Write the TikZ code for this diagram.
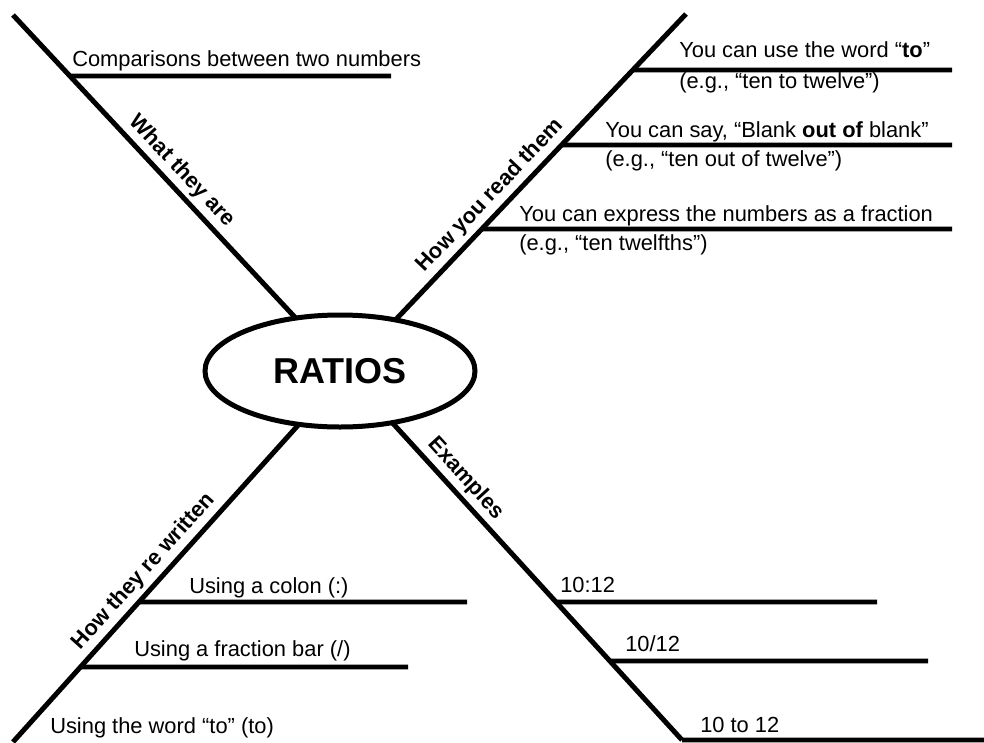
\documentclass[tikz,border=0pt]{standalone}
\usepackage{fontspec}
\setmainfont{Liberation Sans}
\usetikzlibrary{shapes.geometric,calc}

\tikzset{
    branch/.style={line width=3.75pt},
    twig/.style={line width=3.6pt},
    leaf/.style={anchor=base west, inner sep=0pt, font=\fontsize{16.4}{19}\selectfont},
    tag/.style={sloped, above, inner sep=3pt, font=\fontsize{16.4}{19}\selectfont\bfseries},
}

\begin{document}
\begin{tikzpicture}[x=0.75pt, y=-0.75pt]
    \useasboundingbox (0,0) rectangle (984,742);
    \coordinate (hub) at (346,372);
    \coordinate (lt) at (13,15);
    \coordinate (rt) at (686,14);
    \coordinate (lb) at (13,742);
    \coordinate (rb) at (682,740);

    % main branches
    \draw[branch] (lt) -- (hub) node[tag, pos=.47] {What they are};
    \draw[branch] (hub) -- (rt) node[tag, pos=.46] {How you read them};
    \draw[branch] (lb) -- (hub) node[tag, pos=.43] {How they re written};
    \draw[branch] (hub) -- (rb) node[tag, pos=.32] {Examples};

    \node[ellipse, draw, line width=3.75pt, fill=white, minimum width=202.5pt, minimum height=84pt, inner sep=0pt, font=\fontsize{27}{32}\selectfont\bfseries] (ratios) at (340,371) {RATIOS};

    % side lines
    \coordinate (l1) at (intersection of lt--hub and 0,76--984,76);
    \coordinate (l1e) at (391,76);
    \draw[twig] (l1) -- (l1e);
    \foreach \n/\y/\xe in {1/70/952, 2/145/952, 3/229/952} {
        \coordinate (r\n) at (intersection of hub--rt and 0,\y--984,\y);
        \coordinate (r\n e) at (\xe,\y);
        \draw[twig] (r\n) -- (r\n e);
    }
    \foreach \n/\y/\xe in {1/602/467, 2/667/408} {
        \coordinate (w\n) at (intersection of lb--hub and 0,\y--984,\y);
        \coordinate (w\n e) at (\xe,\y);
        \draw[twig] (w\n) -- (w\n e);
    }
    \foreach \n/\y/\xe in {1/602/877, 2/661/928, 3/740/984} {
        \coordinate (x\n) at (intersection of hub--rb and 0,\y--984,\y);
        \coordinate (x\n e) at (\xe,\y);
        \draw[twig] (x\n) -- (x\n e);
    }

    % texts
    \node[leaf] (what) at (72,67) {Comparisons between two numbers};
    \node[leaf] (read1) at (679,58) {You can use the word “\textbf{to}”};
    \node[leaf] (read1b) at (679,89) {(e.g., “ten to twelve”)};
    \node[leaf] (read2) at (605,137) {You can say, “Blank \textbf{out of} blank”};
    \node[leaf] (read2b) at (605,166) {(e.g., “ten out of twelve”)};
    \node[leaf] (read3) at (519,221) {You can express the numbers as a fraction};
    \node[leaf] (read3b) at (519,250) {(e.g., “ten twelfths”)};
    \node[leaf] (wr1) at (189,593) {Using a colon (:)};
    \node[leaf] (wr2) at (134,656) {Using a fraction bar (/)};
    \node[leaf] (wr3) at (50,733) {Using the word “to” (to)};
    \node[leaf] (ex1) at (560,592) {10:12};
    \node[leaf] (ex2) at (625,651) {10/12};
    \node[leaf] (ex3) at (700,732) {10 to 12};
\end{tikzpicture}
\end{document}
